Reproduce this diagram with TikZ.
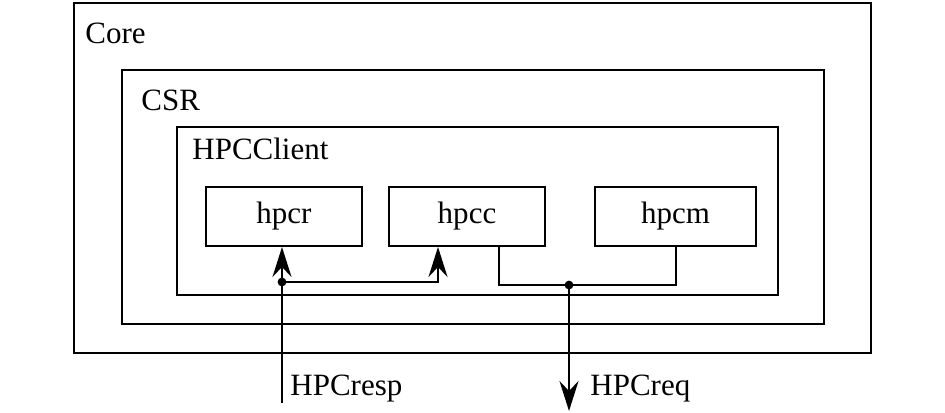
\documentclass[tikz,border=0pt]{standalone}
\usepackage{fontspec}
\setmainfont{Liberation Serif}
\usetikzlibrary{%
  positioning
 ,arrows.meta
 ,calc
}
\tikzstyle{frame}=[rectangle,draw=black,line width=1pt,inner sep=0pt]
\tikzstyle{blk}=[rectangle,draw=black,line width=1pt,minimum width=78pt,minimum height=29.5pt,inner sep=0pt]
\tikzstyle{lbl}=[anchor=base west,inner sep=0pt]
\tikzstyle{wire}=[line width=1pt]
\tikzstyle{sig}=[line width=1pt,-{Stealth[length=15pt,width=9.5pt,inset=5pt]}]

\begin{document}
\begin{tikzpicture}[x=0.5pt,y=-0.5pt,font=\fontsize{15.5}{18}\selectfont]
      \useasboundingbox (0,0) rectangle (945,412);
      % nested frames
      \node[frame,minimum width=398.5pt,minimum height=175pt] (core) at (472.5,178) {};
      \node[frame,minimum width=351pt,minimum height=127pt] (csr) at (473,197) {};
      \node[frame,minimum width=300.5pt,minimum height=84pt] (client) at (477.5,211) {};
      \node[lbl] (core_t) at (85,43) {Core};
      \node[lbl] (csr_t) at (141,110) {CSR};
      \node[lbl] (client_t) at (192,159) {HPCClient};
      % blocks
      \node[blk] (hpcr) at (284,216.5) {hpcr};
      \node[blk] (hpcc) at (467,216.5) {hpcc};
      \node[blk,minimum width=80.5pt] (hpcm) at (675.5,216.5) {hpcm};
      % response path
      \coordinate (resp) at (282,403);
      \coordinate (rj) at (282,282);
      \draw[wire] (resp) -- (rj);
      \draw[sig] (rj) -- (rj |- hpcr.south);
      \draw[sig] (rj) -| ([xshift=-14.5pt]hpcc.south);
      \fill (rj) circle (2.2pt);
      \node[lbl] (resp_t) at (290,395) {HPCresp};
      % request path
      \coordinate (qj) at (569,285);
      \coordinate (req) at (569,411);
      \draw[wire] ([xshift=16pt]hpcc.south) |- (hpcm.south |- qj) -- (hpcm.south);
      \draw[sig] (qj) -- (req);
      \fill (qj) circle (2.2pt);
      \node[lbl] (req_t) at (590,395) {HPCreq};
\end{tikzpicture}
\end{document}
